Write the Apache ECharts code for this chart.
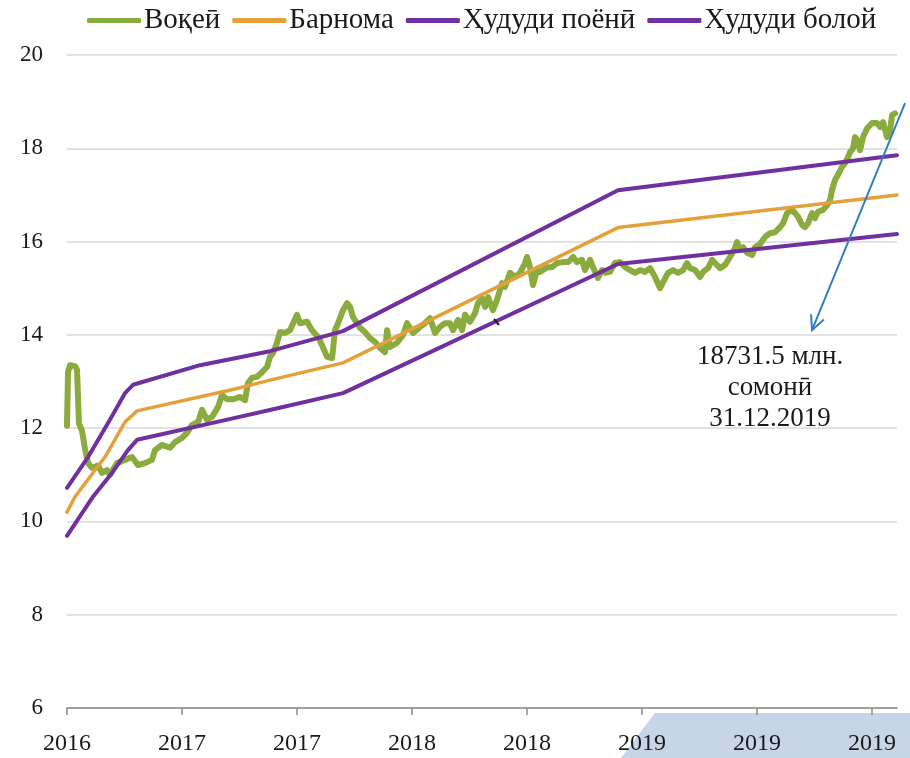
<!DOCTYPE html>
<html>
<head>
<meta charset="utf-8">
<script src="https://cdn.jsdelivr.net/npm/echarts@6/dist/echarts.min.js"></script>
<style>
  html, body { margin: 0; padding: 0; background: #fff; }
  #chart { width: 910px; height: 758px; }
</style>
</head>
<body>
<div id="chart"></div>
<script>
// x is measured in tenths of a tick step (tick every 10 units)
const xTickLabels = ['2016', '2017', '2017', '2018', '2018', '2019', '2019', '2019'];
const xTickValues = [0, 10, 20, 30, 40, 50, 60, 70];

// Воқеӣ (actual)
const actualX = [0, 0.09, 0.26, 0.7, 0.87, 1.04, 1.3, 1.57, 1.83, 2.17, 2.7, 3.04, 3.48, 3.74, 4.35, 5.04, 5.65, 6.17, 6.78, 7.39,
  7.65, 8.26, 8.96, 9.39, 10.0, 10.43, 10.87, 11.39, 11.74, 12.17, 12.61, 13.13, 13.48, 13.91, 14.43, 15.04, 15.48, 15.74, 16.09, 16.52,
  16.96, 17.39, 17.65, 17.91, 18.26, 18.52, 18.96, 19.39, 20.0, 20.26, 20.87, 21.3, 21.83, 22.17, 22.61, 23.04, 23.13, 23.3, 23.57, 24.0,
  24.35, 24.61, 24.87, 25.22, 25.48, 25.91, 26.35, 26.78, 27.22, 27.65, 27.83, 28.09, 28.7, 29.22, 29.57, 30.09, 30.7, 31.13, 31.57, 32.0,
  32.43, 32.87, 33.3, 33.57, 34.0, 34.35, 34.61, 35.04, 35.48, 35.74, 36.09, 36.35, 36.61, 37.04, 37.39, 37.83, 38.09, 38.52, 38.96, 39.39,
  39.83, 40.0, 40.26, 40.52, 40.87, 41.13, 41.74, 42.17, 42.61, 43.13, 43.57, 44.0, 44.35, 44.78, 45.04, 45.48, 45.74, 46.17, 46.52, 46.78,
  47.22, 47.65, 48.09, 48.52, 48.96, 49.39, 49.83, 50.26, 50.7, 51.13, 51.57, 51.83, 52.26, 52.7, 53.13, 53.57, 53.91, 54.17, 54.61, 55.04,
  55.3, 55.74, 56.09, 56.35, 56.78, 57.22, 57.65, 58.09, 58.26, 58.52, 58.78, 59.13, 59.57, 59.83, 60.26, 60.7, 61.13, 61.57, 62.0, 62.26,
  62.61, 63.04, 63.3, 63.57, 63.91, 64.17, 64.43, 64.78, 65.04, 65.3, 65.74, 66.09, 66.35, 66.52, 66.78, 67.04, 67.39, 67.65, 67.91, 68.09,
  68.35, 68.52, 68.7, 68.96, 69.22, 69.57, 70.0, 70.43, 70.7, 70.96, 71.3, 71.57, 71.74, 72.0];
const actualY = [12.05, 13.2, 13.35, 13.33, 13.25, 12.1, 11.95, 11.55, 11.25, 11.15, 11.2, 11.04, 11.1, 11.0, 11.25, 11.32, 11.38, 11.21, 11.25, 11.32,
  11.53, 11.64, 11.58, 11.7, 11.79, 11.9, 12.07, 12.13, 12.39, 12.18, 12.24, 12.45, 12.71, 12.62, 12.62, 12.67, 12.6, 12.97, 13.08, 13.1,
  13.2, 13.31, 13.53, 13.61, 13.83, 14.06, 14.04, 14.1, 14.43, 14.25, 14.28, 14.1, 13.96, 13.78, 13.53, 13.5, 13.68, 14.1, 14.25, 14.53,
  14.68, 14.6, 14.38, 14.25, 14.15, 14.06, 13.93, 13.85, 13.72, 13.63, 14.1, 13.74, 13.83, 14.0, 14.25, 14.04, 14.17, 14.25, 14.36, 14.04,
  14.17, 14.25, 14.25, 14.1, 14.32, 14.1, 14.43, 14.28, 14.47, 14.68, 14.79, 14.6, 14.81, 14.53, 14.75, 15.11, 15.03, 15.33, 15.24, 15.33,
  15.54, 15.67, 15.45, 15.07, 15.39, 15.35, 15.45, 15.45, 15.54, 15.56, 15.56, 15.67, 15.56, 15.61, 15.39, 15.61, 15.45, 15.22, 15.39, 15.33,
  15.35, 15.54, 15.56, 15.45, 15.39, 15.33, 15.39, 15.35, 15.43, 15.24, 15.0, 15.13, 15.33, 15.39, 15.33, 15.39, 15.54, 15.43, 15.39, 15.24,
  15.35, 15.43, 15.61, 15.54, 15.43, 15.5, 15.67, 15.86, 15.99, 15.82, 15.88, 15.76, 15.71, 15.88, 15.95, 16.1, 16.18, 16.2, 16.31, 16.39,
  16.61, 16.68, 16.61, 16.53, 16.36, 16.31, 16.39, 16.61, 16.5, 16.64, 16.68, 16.78, 16.89, 17.11, 17.32, 17.43, 17.6, 17.68, 17.81, 17.92,
  18.0, 18.24, 18.18, 17.96, 18.24, 18.43, 18.54, 18.54, 18.46, 18.56, 18.24, 18.39, 18.71, 18.75];

// Барнома (forecast)
const forecastX = [0, 0.7, 3.3, 5.04, 6.09, 14.61, 17.65, 24.0, 47.91, 72.17];
const forecastY = [10.2, 10.53, 11.38, 12.13, 12.37, 12.84, 13.03, 13.4, 16.3, 17.0];

// Ҳудуди поёнӣ (lower bound)
const lowerX = [0, 2.26, 3.91, 5.3, 6.09, 14.61, 17.65, 24.0, 47.91, 72.17];
const lowerY = [9.69, 10.53, 11.04, 11.53, 11.75, 12.22, 12.39, 12.75, 15.52, 16.16];

// Ҳудуди болой (upper bound)
const upperX = [0, 1.83, 3.57, 5.04, 5.74, 11.57, 17.65, 24.0, 47.91, 72.17];
const upperY = [10.72, 11.38, 12.11, 12.75, 12.93, 13.35, 13.65, 14.08, 17.1, 17.85];

const arrowFrom = [72.87, 18.97];
const arrowTo = [64.78, 14.1];
const noteAt = [61.13, 13.85];
const noteText = '18731.5 млн.\nсомонӣ\n31.12.2019';

const zip = (xs, ys) => xs.map((x, i) => [x, ys[i]]);
const serif = '"Liberation Serif", "DejaVu Serif", serif';

const chart = echarts.init(document.getElementById('chart'));

const lineSeries = (name, xs, ys, color, width) => ({
  name: name,
  type: 'line',
  data: zip(xs, ys),
  showSymbol: false,
  symbol: 'none',
  lineStyle: { color: color, width: width, cap: 'round', join: 'round' },
  itemStyle: { color: color },
  animation: false,
});

const option = {
  backgroundColor: '#fff',
  animation: false,
  legend: {
    top: 1,
    left: 82,
    itemWidth: 54,
    itemHeight: 5,
    itemGap: 12,
    icon: 'roundRect',
    textStyle: { fontFamily: serif, fontSize: 29, color: '#1a1a1a', padding: [0, 0, 0, -2] },
    data: ['Воқеӣ', 'Барнома', 'Ҳудуди поёнӣ', 'Ҳудуди болой'],
  },
  grid: { left: 67, right: 13, top: 55, bottom: 50 },
  xAxis: {
    type: 'value',
    min: 0,
    max: 72.17,
    interval: 10,
    axisLine: { show: true, lineStyle: { color: '#8a8a8a', width: 1.5 } },
    axisTick: { show: true, length: 7, customValues: xTickValues, lineStyle: { color: '#8a8a8a', width: 1.5 } },
    axisLabel: {
      customValues: xTickValues,
      margin: 24,
      fontFamily: serif,
      fontSize: 24,
      color: '#1a1a1a',
      formatter: (v) => xTickLabels[Math.round(v / 10)] || '',
    },
    splitLine: { show: false },
  },
  yAxis: {
    type: 'value',
    min: 6,
    max: 20,
    interval: 2,
    axisLine: { show: false },
    axisTick: { show: false },
    axisLabel: { margin: 24, fontFamily: serif, fontSize: 23, color: '#1a1a1a' },
    splitLine: { lineStyle: { color: '#d9d9d9', width: 1.5 } },
  },
  series: [
    lineSeries('Воқеӣ', actualX, actualY, '#8aab3e', 6),
    lineSeries('Барнома', forecastX, forecastY, '#e4a03a', 3.5),
    lineSeries('Ҳудуди поёнӣ', lowerX, lowerY, '#7030a0', 4),
    lineSeries('Ҳудуди болой', upperX, upperY, '#7030a0', 4),
  ],
};

chart.setOption(option);

// annotation arrow and note, placed via the chart's own scales
const p0 = chart.convertToPixel({ gridIndex: 0 }, arrowFrom);
const p1 = chart.convertToPixel({ gridIndex: 0 }, arrowTo);
const dx = p1[0] - p0[0];
const dy = p1[1] - p0[1];
const len = Math.sqrt(dx * dx + dy * dy);
const ux = dx / len;
const uy = dy / len;
const headLen = 16;
const headAng = 0.45;
const rot = (a) => [
  p1[0] - headLen * (ux * Math.cos(a) - uy * Math.sin(a)),
  p1[1] - headLen * (ux * Math.sin(a) + uy * Math.cos(a)),
];
const noteP = chart.convertToPixel({ gridIndex: 0 }, noteAt);

chart.setOption({
  graphic: [
    {
      type: 'polygon',
      z: -10,
      silent: true,
      shape: { points: [[655, 713], [910, 713], [910, 758], [621, 758]] },
      style: { fill: '#c8d4e8' },
    },
    {
      type: 'line',
      z: 100,
      shape: { x1: p0[0], y1: p0[1], x2: p1[0], y2: p1[1] },
      style: { stroke: '#2f7fc1', lineWidth: 2 },
    },
    {
      type: 'polyline',
      z: 100,
      shape: { points: [rot(headAng), p1, rot(-headAng)] },
      style: { stroke: '#2f7fc1', lineWidth: 2, fill: null },
    },
    {
      type: 'text',
      z: 100,
      x: noteP[0],
      y: noteP[1],
      style: {
        text: noteText,
        font: '27px ' + serif,
        fill: '#1a1a1a',
        align: 'center',
        verticalAlign: 'top',
        lineHeight: 31,
      },
    },
    {
      type: 'line',
      z: 100,
      shape: { x1: 494, y1: 319, x2: 499, y2: 325 },
      style: { stroke: '#222', lineWidth: 2 },
    },
  ],
});
</script>
</body>
</html>
